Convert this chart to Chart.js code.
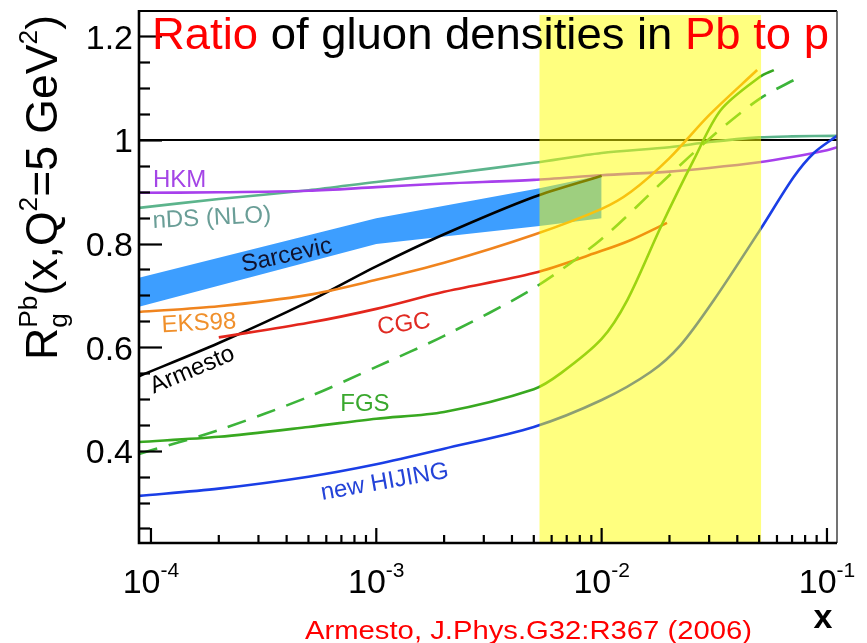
<!DOCTYPE html>
<html>
<head>
<meta charset="utf-8">
<script src="https://cdn.jsdelivr.net/npm/chart.js@4.4.1/dist/chart.umd.min.js"></script>
<style>
  html, body { margin: 0; padding: 0; background: #fff; }
  #wrap { width: 867px; height: 643px; }
</style>
</head>
<body>
<div id="wrap"><canvas id="gluonChart" width="867" height="643"></canvas></div>
<script>
// axis ranges
const xMin = 8.85e-5;
const xMax = 0.1108;
const yMin = 0.222;
const yMax = 1.249;

// HKM
const hkmX = [8.85e-5, 2e-4, 5e-4, 1e-3, 2e-3, 5e-3, 1e-2, 2e-2, 3e-2, 5e-2, 7e-2, 1e-1, 0.1108];
const hkmR = [0.898, 0.899, 0.902, 0.909, 0.916, 0.923, 0.932, 0.939, 0.946, 0.957, 0.967, 0.980, 0.986];

// nDS (NLO)
const ndsX = [8.85e-5, 2e-4, 5e-4, 1e-3, 2e-3, 5e-3, 1e-2, 2e-2, 3e-2, 5e-2, 7e-2, 0.1108];
const ndsR = [0.869, 0.886, 0.903, 0.919, 0.934, 0.956, 0.975, 0.986, 0.996, 1.005, 1.007, 1.008];

// Sarcevic band (upper / lower edge)
const sarX = [8.85e-5, 1e-3, 5.3e-3, 1e-2];
const sarUpper = [0.734, 0.849, 0.907, 0.932];
const sarLower = [0.678, 0.799, 0.834, 0.849];

// Armesto
const armX = [8.85e-5, 2e-4, 5e-4, 1e-3, 2e-3, 5e-3, 1e-2];
const armR = [0.544, 0.608, 0.688, 0.756, 0.818, 0.890, 0.931];

// EKS98
const eksX = [8.85e-5, 2e-4, 5e-4, 1e-3, 2e-3, 5e-3, 1e-2, 1.35e-2, 2e-2, 3e-2, 4.9e-2];
const eksR = [0.668, 0.679, 0.701, 0.730, 0.763, 0.817, 0.867, 0.900, 0.965, 1.048, 1.135];

// CGC
const cgcX = [2e-4, 5e-4, 1e-3, 2e-3, 5e-3, 1e-2, 1.35e-2, 1.95e-2];
const cgcR = [0.619, 0.647, 0.674, 0.707, 0.743, 0.786, 0.807, 0.840];

// FGS, two curves (solid and dashed)
const fgsX = [8.85e-5, 2e-4, 5e-4, 1e-3, 2e-3, 5e-3, 6.6e-3, 1e-2, 1.3e-2, 1.83e-2, 2.56e-2, 3.38e-2, 5.04e-2, 5.81e-2];
const fgsR = [0.417, 0.427, 0.446, 0.462, 0.475, 0.519, 0.550, 0.616, 0.691, 0.832, 0.961, 1.058, 1.122, 1.135];
const fgsDashX = [8.85e-5, 2e-4, 5e-4, 1e-3, 2e-3, 5e-3, 1e-2, 2e-2, 3e-2, 5e-2, 7.6e-2];
const fgsDashR = [0.394, 0.440, 0.504, 0.562, 0.622, 0.714, 0.809, 0.932, 1.002, 1.079, 1.122];

// new HIJING
const hijX = [8.85e-5, 2e-4, 5e-4, 1e-3, 2e-3, 5e-3, 1e-2, 1.65e-2, 2.24e-2, 3.15e-2, 5.04e-2, 7.13e-2, 8.75e-2, 0.1108];
const hijR = [0.313, 0.327, 0.350, 0.374, 0.404, 0.446, 0.498, 0.552, 0.604, 0.691, 0.826, 0.929, 0.975, 1.008];

// R = 1 reference line
const unityX = [xMin, xMax];
const unityR = [1, 1];

// ticks
const xMajorTicks = [1e-4, 1e-3, 1e-2, 1e-1];
const xTickExponents = ["-4", "-3", "-2", "-1"];
const yMajorTicks = [0.4, 0.6, 0.8, 1.0, 1.2];
const yTickLabels = ["0.4", "0.6", "0.8", "1", "1.2"];

// shaded x window
const bandFrom = 5.3e-3;
const bandTo = 5.1e-2;

const FONT = "'Liberation Sans', Arial, sans-serif";

// curve labels, anchored in data coordinates
const curveLabels = [
  { text: "HKM", color: "#a445e6", x: 1.02e-4, y: 0.909, angle: 0 },
  { text: "nDS (NLO)", color: "#6a9e97", x: 1.02e-4, y: 0.830, angle: -3 },
  { text: "Sarcevic", color: "#10122e", x: 2.57e-4, y: 0.745, angle: -12.5 },
  { text: "EKS98", color: "#f0902c", x: 1.12e-4, y: 0.629, angle: -3 },
  { text: "Armesto", color: "#000000", x: 1.03e-4, y: 0.510, angle: -23 },
  { text: "CGC", color: "#e02a22", x: 1.02e-3, y: 0.625, angle: -7 },
  { text: "FGS", color: "#3aa82e", x: 6.92e-4, y: 0.477, angle: 0 },
  { text: "new HIJING", color: "#2443d8", x: 5.75e-4, y: 0.305, angle: -10 }
];

function pts(xs, ys) {
  return xs.map((x, i) => ({ x: x, y: ys[i] }));
}

function curve(data, color, extra) {
  return Object.assign({
    data: data,
    borderColor: color,
    borderWidth: 2.6,
    pointRadius: 0,
    fill: false,
    tension: 0.3
  }, extra || {});
}

// draws text stretched horizontally to a given width
function fitText(ctx, text, x, y, width) {
  const w = ctx.measureText(text).width;
  ctx.save();
  ctx.translate(x, y);
  ctx.scale(width / w, 1);
  ctx.fillText(text, 0, 0);
  ctx.restore();
}

const decorations = {
  id: "decorations",
  afterDatasetsDraw(chart) {
    const { ctx, chartArea, scales } = chart;
    const x0 = scales.x.getPixelForValue(bandFrom);
    const x1 = scales.x.getPixelForValue(bandTo);
    ctx.save();
    ctx.fillStyle = "rgba(255, 255, 0, 0.5)";
    ctx.fillRect(x0, chartArea.top + 4, x1 - x0, chartArea.bottom - chartArea.top - 4);
    ctx.restore();
  },
  afterDraw(chart) {
    const { ctx, chartArea, scales } = chart;
    const xs = scales.x;
    const ys = scales.y;
    const L = chartArea.left, R = chartArea.right, T = chartArea.top, B = chartArea.bottom;
    ctx.save();

    // frame
    ctx.strokeStyle = "#000";
    ctx.lineWidth = 2;
    ctx.beginPath();
    ctx.moveTo(L, T); ctx.lineTo(R, T);
    ctx.stroke();
    ctx.strokeStyle = "#444";
    ctx.lineWidth = 1.5;
    ctx.beginPath();
    ctx.moveTo(R, T); ctx.lineTo(R, B);
    ctx.stroke();
    ctx.strokeStyle = "#000";
    ctx.lineWidth = 2.6;
    ctx.beginPath();
    ctx.moveTo(L, T - 1); ctx.lineTo(L, B); ctx.lineTo(R, B);
    ctx.stroke();

    // y ticks, pointing inward
    ctx.lineWidth = 2.2;
    for (let v = 0.25; v < yMax; v += 0.05) {
      const py = Math.round(ys.getPixelForValue(v)) + 0.5;
      const major = yMajorTicks.some((m) => Math.abs(m - v) < 1e-6);
      ctx.beginPath();
      ctx.moveTo(L, py);
      ctx.lineTo(L + (major ? 23 : 11), py);
      ctx.stroke();
    }

    // x ticks, decades and sub-decades
    for (let e = -5; e <= -1; e++) {
      for (let m = 1; m <= 9; m++) {
        const v = m * Math.pow(10, e);
        if (v < xMin || v > xMax) continue;
        const px = xs.getPixelForValue(v);
        if (px - L < 4) continue;
        ctx.beginPath();
        ctx.moveTo(px, B);
        ctx.lineTo(px, B - (m === 1 ? 15 : 8));
        ctx.stroke();
      }
    }

    // y tick labels
    ctx.fillStyle = "#000";
    ctx.font = "34px " + FONT;
    ctx.textAlign = "right";
    ctx.textBaseline = "middle";
    yMajorTicks.forEach((v, i) => {
      ctx.fillText(yTickLabels[i], 133, ys.getPixelForValue(v) + 3);
    });

    // x tick labels 10^n
    ctx.textAlign = "left";
    ctx.textBaseline = "alphabetic";
    xMajorTicks.forEach((v, i) => {
      const px = xs.getPixelForValue(v);
      ctx.font = "34px " + FONT;
      const wBase = ctx.measureText("10").width;
      ctx.font = "21px " + FONT;
      const wExp = ctx.measureText(xTickExponents[i]).width;
      const left = px - (wBase + wExp) / 2;
      ctx.font = "34px " + FONT;
      ctx.fillText("10", left, 593);
      ctx.font = "21px " + FONT;
      ctx.fillText(xTickExponents[i], left + wBase, 577);
    });

    // x axis title
    ctx.font = "bold 34px " + FONT;
    ctx.textAlign = "center";
    ctx.fillText("x", 823, 628);

    // reference line under the plot
    ctx.font = "26px " + FONT;
    ctx.textAlign = "left";
    ctx.fillStyle = "#ff0000";
    fitText(ctx, "Armesto, J.Phys.G32:R367 (2006)", 305, 639, 447);

    // y axis title, rotated
    ctx.save();
    ctx.translate(57, 360);
    ctx.rotate(-Math.PI / 2);
    ctx.fillStyle = "#000";
    const big = "44px " + FONT;
    const small = "26px " + FONT;
    const parts = [
      { t: "R", f: big, dy: 0 },
      { t: "g", f: small, dy: 10, stack: true },
      { t: "Pb", f: small, dy: -20 },
      { t: "(x,Q", f: big, dy: 0 },
      { t: "2", f: small, dy: -20 },
      { t: "=5 GeV", f: big, dy: 0 },
      { t: "2", f: small, dy: -20 },
      { t: ")", f: big, dy: 0 }
    ];
    let total = 0, held = 0;
    parts.forEach((p) => {
      ctx.font = p.f;
      const w = ctx.measureText(p.t).width;
      if (p.stack) { held = w; return; }
      total += Math.max(w, held);
      held = 0;
    });
    ctx.scale(345 / total, 1);
    let cx = 0;
    held = 0;
    parts.forEach((p) => {
      ctx.font = p.f;
      const w = ctx.measureText(p.t).width;
      ctx.fillText(p.t, cx, p.dy);
      if (p.stack) { held = w; return; }
      cx += Math.max(w, held);
      held = 0;
    });
    ctx.restore();

    // curve labels
    ctx.font = "24px " + FONT;
    ctx.textAlign = "left";
    curveLabels.forEach((lab) => {
      ctx.save();
      ctx.translate(xs.getPixelForValue(lab.x), ys.getPixelForValue(lab.y));
      ctx.rotate(lab.angle * Math.PI / 180);
      ctx.fillStyle = lab.color;
      ctx.fillText(lab.text, 0, 0);
      ctx.restore();
    });

    // title inside the frame
    const titleParts = [
      { t: "Ratio", c: "#ff0000" },
      { t: " of gluon densities in ", c: "#000000" },
      { t: "Pb to p", c: "#ff0000" }
    ];
    ctx.font = "44px " + FONT;
    const titleW = titleParts.reduce((s, p) => s + ctx.measureText(p.t).width, 0);
    ctx.save();
    ctx.translate(152, 49);
    ctx.scale(677 / titleW, 1);
    let tx = 0;
    titleParts.forEach((p) => {
      ctx.fillStyle = p.c;
      ctx.fillText(p.t, tx, 0);
      tx += ctx.measureText(p.t).width;
    });
    ctx.restore();

    ctx.restore();
  }
};

new Chart(document.getElementById("gluonChart"), {
  type: "line",
  data: {
    datasets: [
      curve(pts(hijX, hijR), "#1a3ee6"),
      curve(pts(fgsX, fgsR), "#38a820"),
      curve(pts(fgsDashX, fgsDashR), "#3cb43a", { borderDash: [19, 12] }),
      curve(pts(cgcX, cgcR), "#e3261c"),
      curve(pts(eksX, eksR), "#f0841e"),
      curve(pts(armX, armR), "#000000"),
      curve(pts(hkmX, hkmR), "#a740ec"),
      curve(pts(ndsX, ndsR), "#5cb48c"),
      curve(pts(unityX, unityR), "#000000", { borderWidth: 2, tension: 0 }),
      {
        data: pts(sarX, sarUpper),
        borderColor: "rgba(0,0,0,0)",
        borderWidth: 0,
        pointRadius: 0,
        tension: 0,
        backgroundColor: "#3d9eff",
        fill: "+1"
      },
      {
        data: pts(sarX, sarLower),
        borderColor: "rgba(0,0,0,0)",
        borderWidth: 0,
        pointRadius: 0,
        tension: 0,
        fill: false
      }
    ]
  },
  options: {
    responsive: false,
    animation: false,
    devicePixelRatio: 1,
    layout: { padding: { left: 139, right: 30, top: 11, bottom: 100 } },
    plugins: {
      legend: { display: false },
      tooltip: { enabled: false }
    },
    scales: {
      x: { type: "logarithmic", min: xMin, max: xMax, bounds: "data", display: false },
      y: { type: "linear", min: yMin, max: yMax, bounds: "data", display: false }
    }
  },
  plugins: [decorations]
});
</script>
</body>
</html>
